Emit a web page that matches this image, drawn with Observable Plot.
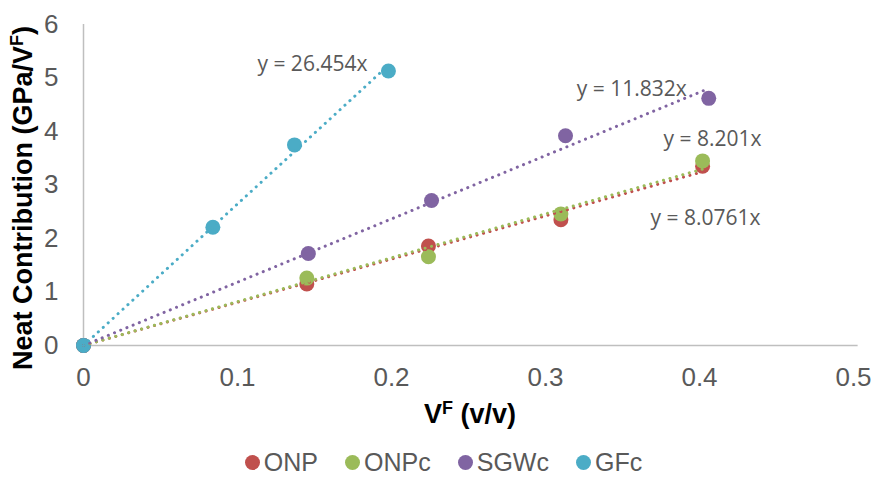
<!DOCTYPE html>
<html>
<head>
<meta charset="utf-8">
<script src="https://cdn.jsdelivr.net/npm/d3@7"></script>
<script src="https://cdn.jsdelivr.net/npm/@observablehq/plot@0.6"></script>
<style>
  html, body { margin: 0; padding: 0; background: #fff; }
  #chart { width: 877px; height: 430px; }
  #legend { display: flex; justify-content: center; gap: 27px; margin-top: 18px; margin-left: 10px;
    font-family: "Liberation Sans", Arial, sans-serif; font-size: 25px; color: #595959; line-height: 28px; }
  .item { display: flex; align-items: center; gap: 4px; }
  .sw { width: 15px; height: 15px; border-radius: 50%; display: inline-block; }
</style>
</head>
<body>
<div id="chart"></div>
<div id="legend"></div>
<script>
const seriesNames = ["ONP", "ONPc", "SGWc", "GFc"];
const seriesColors = ["#C0504D", "#9BBB59", "#8064A2", "#4BACC6"];
const slopes = [8.0761, 8.201, 11.832, 26.454];
const equations = ["y = 8.0761x", "y = 8.201x", "y = 11.832x", "y = 26.454x"];

const onpX  = [0, 0.145, 0.224, 0.310, 0.402];
const onpY  = [0, 1.15, 1.86, 2.35, 3.35];
const onpcX = [0, 0.145, 0.224, 0.310, 0.402];
const onpcY = [0, 1.26, 1.66, 2.46, 3.45];
const sgwcX = [0, 0.146, 0.226, 0.313, 0.406];
const sgwcY = [0, 1.72, 2.71, 3.92, 4.62];
const gfcX  = [0, 0.084, 0.137, 0.198];
const gfcY  = [0, 2.21, 3.75, 5.13];

const xTicks = [0, 0.1, 0.2, 0.3, 0.4, 0.5];
const yTicks = [0, 1, 2, 3, 4, 5, 6];

const xs = [onpX, onpcX, sgwcX, gfcX];
const ys = [onpY, onpcY, sgwcY, gfcY];

const points = [];
seriesNames.forEach((s, i) => xs[i].forEach((x, j) => points.push({series: s, x, y: ys[i][j]})));

const trends = [];
seriesNames.forEach((s, i) => {
  const xmax = d3.max(xs[i]);
  trends.push({series: s, x: 0, y: 0});
  trends.push({series: s, x: xmax, y: slopes[i] * xmax});
});
const ends = seriesNames.map((s, i) => {
  const xmax = d3.max(xs[i]);
  return {series: s, x: xmax, y: slopes[i] * xmax, label: equations[i]};
});

const eqStyle = {fontFamily: "'Open Sans', sans-serif", fontSize: 21, fill: "#595959"};
const fmt = d => String(+d.toFixed(1));

const plot = Plot.plot({
  width: 877,
  height: 430,
  marginLeft: 83,
  marginRight: 24,
  marginTop: 24,
  marginBottom: 85,
  style: {fontFamily: "'Liberation Sans', Arial, sans-serif", fontSize: "26px", color: "#595959", background: "#fff"},
  x: {domain: [0, 0.5]},
  y: {domain: [0, 6]},
  color: {domain: seriesNames, range: seriesColors},
  marks: [
    Plot.ruleY([0], {stroke: "#BFBFBF", strokeWidth: 1.5, x1: 0, x2: 0.503}),
    Plot.ruleX([0], {stroke: "#BFBFBF", strokeWidth: 1.5}),
    Plot.axisX({ticks: xTicks, tickSize: 0, tickPadding: 22, label: null, fontSize: 26,
      tickFormat: fmt, fill: "#595959"}),
    Plot.axisY({ticks: yTicks, tickSize: 0, tickPadding: 25, label: null, fontSize: 26,
      tickFormat: fmt, fill: "#595959"}),
    Plot.dot(points, {x: "x", y: "y", fill: "series", r: 7.5}),
    Plot.line(trends, {x: "x", y: "y", z: "series", stroke: "series", strokeWidth: 3,
      strokeDasharray: "0.1 6.6", strokeLinecap: "round"}),
    Plot.text(ends.filter(d => d.series === "GFc"), {x: "x", y: "y", text: "label", textAnchor: "end", dx: -21, dy: -1, ...eqStyle}),
    Plot.text(ends.filter(d => d.series === "SGWc"), {x: "x", y: "y", text: "label", textAnchor: "end", dx: -22, dy: 1, ...eqStyle}),
    Plot.text(ends.filter(d => d.series === "ONPc"), {x: "x", y: "y", text: "label", textAnchor: "end", dx: 59, dy: -30, ...eqStyle}),
    Plot.text(ends.filter(d => d.series === "ONP"), {x: "x", y: "y", text: "label", textAnchor: "end", dx: 58, dy: 46, ...eqStyle})
  ]
});
document.getElementById("chart").appendChild(plot);

// axis titles with superscripts
const svg = d3.select(plot);
const yt = svg.append("text")
  .attr("transform", "translate(32,198) rotate(-90)")
  .attr("text-anchor", "middle")
  .attr("font-family", "'Liberation Sans', Arial, sans-serif")
  .attr("font-weight", "bold").attr("font-size", 27).attr("fill", "#000");
yt.append("tspan").text("Neat Contribution (GPa/V");
yt.append("tspan").attr("font-size", 18).attr("dy", -9).text("F");
yt.append("tspan").attr("dy", 9).text(")");

const xt = svg.append("text")
  .attr("x", 470).attr("y", 423)
  .attr("text-anchor", "middle")
  .attr("font-family", "'Liberation Sans', Arial, sans-serif")
  .attr("font-weight", "bold").attr("font-size", 27).attr("fill", "#000");
xt.append("tspan").text("V");
xt.append("tspan").attr("font-size", 18).attr("dy", -9).text("F");
xt.append("tspan").attr("dy", 9).text(" (v/v)");

// legend
const lg = d3.select("#legend");
seriesNames.forEach((s, i) => {
  const it = lg.append("div").attr("class", "item");
  it.append("span").attr("class", "sw").style("background", seriesColors[i]);
  it.append("span").text(s);
});
</script>
</body>
</html>
